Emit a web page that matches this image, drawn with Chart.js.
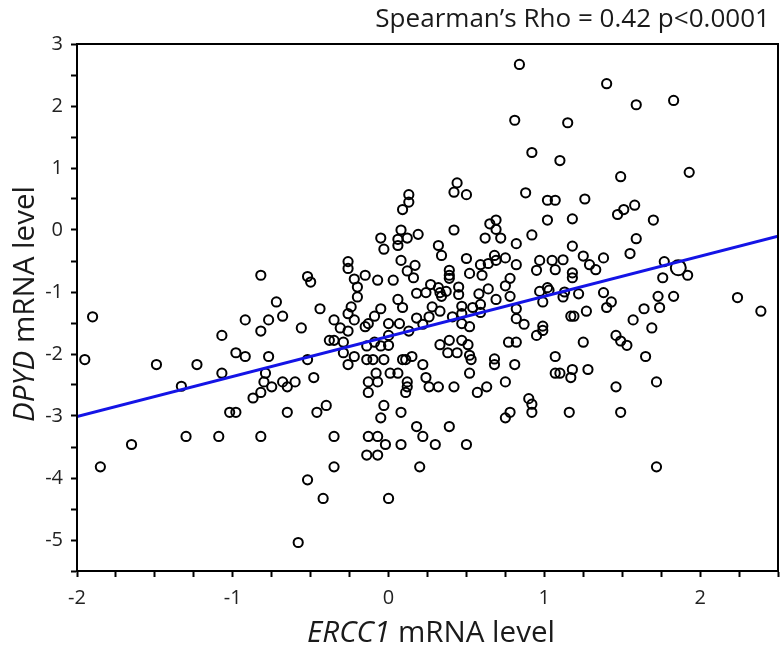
<!DOCTYPE html>
<html lang="en">
<head>
<meta charset="UTF-8">
<title>ERCC1 vs DPYD</title>
<script src="https://cdn.jsdelivr.net/npm/chart.js"></script>
<style>
  html, body { margin: 0; padding: 0; background: #fff; }
</style>
</head>
<body>
<canvas id="scatterChart" width="780" height="652"></canvas>
<script>
// ERCC1 (x) and DPYD (y) mRNA levels, one entry per sample
const ercc1 = [
  0.13, 0.13, 0.09, 0.08, -0.05, 0.06, 0.12, 0.06, -0.03, -0.26,
  -0.26, 0.08, 0.12, -0.82, -0.52, -0.50, -0.22, -0.15, -0.07, 0.03,
  -0.20, -0.20, 0.06, 0.09, -0.72, -0.44, -0.24, -0.05, -0.26, -1.90,
  -0.92, -0.77, -0.68, -0.82, -0.56, -0.35, -0.31, -0.26, -0.22, -0.15,
  -0.13, -0.09, 0.00, 0.07, 0.13, -1.07, -0.38, -0.35, -0.29, -0.14,
  -0.09, -0.05, 0.00, 0.00, -1.95, -1.49, -1.23, -0.98, -0.92, -0.77,
  -0.52, -0.29, -0.26, -0.22, -0.14, -0.10, -0.03, 0.09, 0.11, -1.07,
  -1.33, -0.79, -0.80, -0.75, -0.68, -0.65, -0.60, -0.48, -0.82, -0.87,
  -0.08, -0.13, -0.07, -0.13, 0.01, 0.06, 0.12, 0.12, 0.11, -1.02,
  -0.98, -0.65, -0.46, -0.40, -0.03, -0.05, 0.08, -1.65, -1.30, -1.09,
  -0.82, -0.35, -0.13, -0.07, -0.02, 0.08, -0.14, -0.07, -1.85, -0.35,
  -0.52, -0.42, 0.00, -0.58,
  0.19, 0.17, 0.16, 0.18, 0.84, 1.40, 1.59, 1.83, 0.81, 1.15,
  0.92, 1.10, 1.49, 1.93, 0.44, 0.42, 0.50, 0.88, 1.02, 1.07,
  1.26, 1.47, 1.51, 1.58, 1.70, 1.02, 1.18, 0.65, 0.69, 0.69,
  0.42, 0.92, 0.62, 0.72, 0.82, 1.59, 0.32, 0.34, 1.18, 1.55,
  0.50, 0.68, 0.75, 0.59, 0.64, 0.69, 0.82, 0.97, 1.05, 1.12,
  1.25, 1.29, 1.33, 1.38, 0.95, 1.07, 1.18, 1.18, 1.77, 1.92,
  1.76, 0.39, 0.39, 0.39, 0.52, 0.60, 0.78, 0.75, 0.64, 0.45,
  0.45, 0.27, 0.32, 0.33, 0.34, 0.24, 0.37, 0.58, 0.69, 0.78,
  0.97, 1.02, 1.03, 1.13, 1.12, 1.22, 1.38, 1.43, 1.40, 0.99,
  1.73, 1.83, 1.64, 1.74, 2.24, 2.39, 0.28, 0.33, 0.54, 0.59,
  0.59, 0.47, 0.82, 1.27, 0.47, 1.17, 1.19, 1.57, 1.69, 0.99,
  0.99, 0.95, 0.82, 0.87, 0.26, 0.22, 0.18, 0.41, 0.47, 0.52,
  0.33, 0.39, 0.47, 0.51, 0.38, 0.44, 0.52, 0.53, 0.68, 0.68,
  0.77, 0.82, 0.81, 1.07, 1.25, 1.46, 1.49, 1.53, 1.65, 0.15,
  0.22, 0.24, 0.26, 0.32, 0.42, 0.52, 0.57, 0.63, 0.75, 1.07,
  1.10, 1.18, 1.17, 1.28, 1.46, 1.72, 0.90, 0.92, 0.92, 0.75,
  0.78, 1.16, 1.49, 0.18, 0.22, 0.30, 0.39, 0.50, 0.20, 1.72
];
const dpyd = [
  0.57, 0.45, 0.33, 0.00, -0.13, -0.15, -0.13, -0.25, -0.31, -0.51,
  -0.62, -0.49, -0.66, -0.73, -0.75, -0.84, -0.79, -0.73, -0.81, -0.81,
  -0.92, -1.08, -1.12, -1.25, -1.16, -1.27, -1.24, -1.27, -1.35, -1.40,
  -1.45, -1.45, -1.39, -1.63, -1.58, -1.45, -1.58, -1.63, -1.45, -1.56,
  -1.51, -1.39, -1.51, -1.51, -1.63, -1.70, -1.78, -1.78, -1.81, -1.87,
  -1.81, -1.87, -1.70, -1.86, -2.09, -2.17, -2.17, -1.98, -2.04, -2.04,
  -2.09, -1.98, -2.17, -2.04, -2.09, -2.09, -2.09, -2.09, -2.09, -2.31,
  -2.52, -2.31, -2.45, -2.53, -2.45, -2.53, -2.45, -2.38, -2.62, -2.71,
  -2.31, -2.45, -2.45, -2.62, -2.31, -2.31, -2.45, -2.53, -2.62, -2.94,
  -2.94, -2.94, -2.94, -2.83, -2.83, -3.03, -2.94, -3.46, -3.33, -3.33,
  -3.33, -3.33, -3.33, -3.33, -3.46, -3.46, -3.63, -3.63, -3.82, -3.82,
  -4.03, -4.33, -4.33, -5.04,
  -0.07, -0.57, -0.77, -1.02, 2.67, 2.36, 2.02, 2.09, 1.77, 1.73,
  1.25, 1.12, 0.86, 0.93, 0.76, 0.61, 0.57, 0.60, 0.48, 0.48,
  0.50, 0.25, 0.33, 0.40, 0.16, 0.16, 0.18, 0.10, 0.16, 0.01,
  0.00, -0.08, -0.13, -0.13, -0.22, -0.14, -0.25, -0.41, -0.26, -0.38,
  -0.46, -0.41, -0.45, -0.56, -0.54, -0.49, -0.56, -0.49, -0.49, -0.48,
  -0.42, -0.56, -0.64, -0.45, -0.65, -0.64, -0.69, -0.77, -0.51, -0.73,
  -0.77, -0.65, -0.73, -0.78, -0.70, -0.73, -0.78, -0.90, -0.95, -0.92,
  -1.04, -0.88, -0.93, -1.01, -1.07, -1.01, -0.99, -1.03, -1.12, -1.07,
  -0.99, -0.93, -0.97, -1.00, -1.08, -1.03, -1.01, -1.16, -1.25, -1.16,
  -1.07, -1.07, -1.27, -1.25, -1.09, -1.31, -1.24, -1.31, -1.25, -1.20,
  -1.33, -1.23, -1.27, -1.31, -1.35, -1.39, -1.39, -1.45, -1.58, -1.55,
  -1.62, -1.70, -1.43, -1.52, -1.40, -1.52, -1.42, -1.40, -1.51, -1.56,
  -1.85, -1.78, -1.78, -1.85, -1.98, -1.98, -2.02, -2.09, -2.08, -2.17,
  -1.81, -1.81, -2.17, -2.04, -1.81, -1.70, -1.79, -1.86, -2.04, -2.04,
  -2.17, -2.38, -2.53, -2.53, -2.53, -2.31, -2.62, -2.53, -2.45, -2.31,
  -2.31, -2.25, -2.38, -2.25, -2.53, -2.45, -2.72, -2.81, -2.94, -3.03,
  -2.94, -2.94, -2.94, -3.17, -3.33, -3.46, -3.17, -3.46, -3.82, -3.82
];

// one sample drawn with a larger marker
const bigX = [1.86];
const bigY = [-0.61];

// fitted line end points
const fitX = [-2, 2.5];
const fitY = [-3.01, -0.10];

const xMin = -2, xMax = 2.5, xStep = 0.25;
const yMin = -5.5, yMax = 3, yStep = 0.5;

const statText = "Spearman\u2019s Rho = 0.42 p<0.0001";
const xTitle = [["ERCC1", true], [" mRNA level", false]];
const yTitle = [["DPYD", true], [" mRNA level", false]];

const FONT = '"Open Sans", "Noto Sans", sans-serif';

function toPoints(xs, ys) {
  return xs.map((x, i) => ({ x: x, y: ys[i] }));
}

function isWhole(v) {
  return Math.abs(v - Math.round(v)) < 1e-9;
}

// draws a title made of italic and upright pieces, centred on (cx, cy)
function drawMixed(ctx, parts, size, cx, cy) {
  const fonts = parts.map(p => (p[1] ? 'italic ' : '') + size + 'px ' + FONT);
  let total = 0;
  const widths = parts.map((p, i) => { ctx.font = fonts[i]; const w = ctx.measureText(p[0]).width; total += w; return w; });
  let x = cx - total / 2;
  ctx.textAlign = 'left';
  ctx.textBaseline = 'middle';
  parts.forEach((p, i) => {
    ctx.font = fonts[i];
    ctx.fillText(p[0], x, cy);
    x += widths[i];
  });
}

function fitSize(ctx, parts, target) {
  let total = 0;
  parts.forEach(p => {
    ctx.font = (p[1] ? 'italic ' : '') + '100px ' + FONT;
    total += ctx.measureText(p[0]).width;
  });
  return 100 * target / total;
}

const extras = {
  id: 'extras',
  afterDraw(chart) {
    const ctx = chart.ctx;
    const a = chart.chartArea;
    ctx.save();
    ctx.strokeStyle = '#000';
    ctx.lineWidth = 2;
    ctx.strokeRect(a.left, a.top, a.right - a.left, a.bottom - a.top);

    ctx.fillStyle = '#1a1a1a';
    const statSize = fitSize(ctx, [[statText, false]], 395);
    ctx.font = statSize + 'px ' + FONT;
    ctx.textAlign = 'right';
    ctx.textBaseline = 'middle';
    ctx.fillText(statText, 770, 20);

    const tSize = fitSize(ctx, xTitle, 248);
    drawMixed(ctx, xTitle, tSize, 431, 634);

    ctx.translate(26, 304);
    ctx.rotate(-Math.PI / 2);
    drawMixed(ctx, yTitle, tSize, 0, 0);
    ctx.restore();
  }
};

const ctx = document.getElementById('scatterChart');

new Chart(ctx, {
  type: 'scatter',
  data: {
    datasets: [
      {
        type: 'line',
        data: toPoints(fitX, fitY),
        borderColor: '#1414e6',
        borderWidth: 3,
        pointRadius: 0,
        fill: false,
        order: 0
      },
      {
        data: toPoints(ercc1, dpyd),
        borderColor: '#000',
        backgroundColor: 'rgba(0,0,0,0)',
        borderWidth: 2,
        pointRadius: 4.6,
        order: 1
      },
      {
        data: toPoints(bigX, bigY),
        borderColor: '#000',
        backgroundColor: 'rgba(0,0,0,0)',
        borderWidth: 2,
        pointRadius: 7.5,
        order: 1
      }
    ]
  },
  options: {
    responsive: false,
    animation: false,
    devicePixelRatio: 1,
    layout: { autoPadding: false, padding: { top: 44, right: 2, left: 0, bottom: 0 } },
    plugins: {
      legend: { display: false },
      tooltip: { enabled: false }
    },
    scales: {
      x: {
        type: 'linear',
        min: xMin,
        max: xMax,
        afterFit: s => { s.height = 81; s.paddingLeft = 0; s.paddingRight = 0; },
        border: { display: true, color: '#000', width: 2 },
        grid: { drawOnChartArea: false, drawTicks: true, tickLength: 6, tickWidth: 2, tickColor: '#000' },
        ticks: {
          stepSize: xStep,
          autoSkip: false,
          maxRotation: 0,
          padding: 9,
          color: '#222',
          font: { family: FONT, size: 20 },
          callback: v => (isWhole(v) ? String(Math.round(v)) : '')
        }
      },
      y: {
        type: 'linear',
        min: yMin,
        max: yMax,
        afterFit: s => { s.width = 77; s.paddingTop = 0; s.paddingBottom = 0; },
        border: { display: true, color: '#000', width: 2 },
        grid: { drawOnChartArea: false, drawTicks: true, tickLength: 6, tickWidth: 2, tickColor: '#000' },
        ticks: {
          stepSize: yStep,
          autoSkip: false,
          padding: 8,
          color: '#222',
          font: { family: FONT, size: 20 },
          callback: v => (isWhole(v) ? String(Math.round(v)) : '')
        }
      }
    }
  },
  plugins: [extras]
});
</script>
</body>
</html>
